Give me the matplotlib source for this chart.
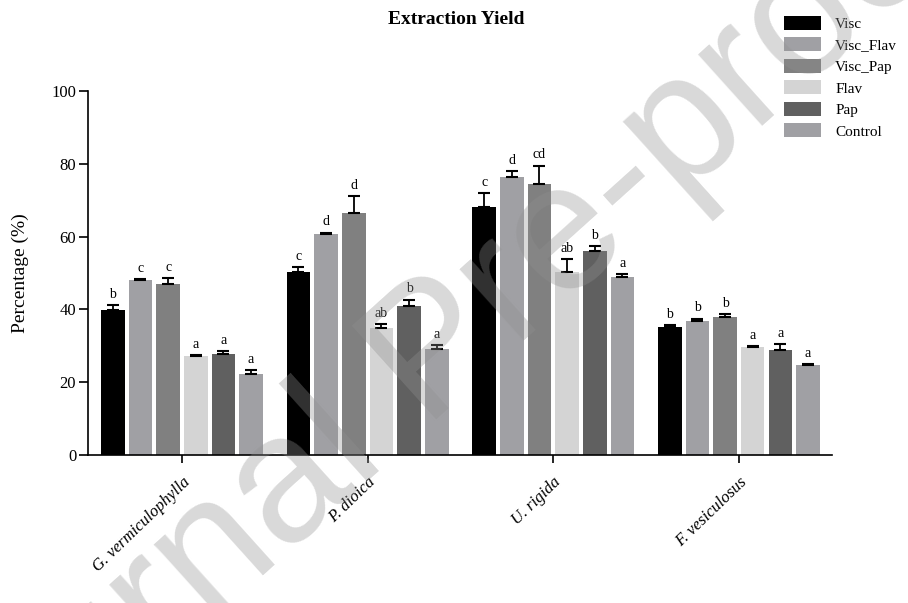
import matplotlib
matplotlib.use("Agg")
import matplotlib.pyplot as plt
import numpy as np

# ---- data ----
species = ["G. vermiculophylla", "P. dioica", "U. rigida", "F. vesiculosus"]
treatments = ["Visc", "Visc_Flav", "Visc_Pap", "Flav", "Pap", "Control"]

visc      = [39.7, 50.2, 68.2, 35.3]
visc_flav = [48.0, 60.8, 76.4, 36.7]
visc_pap  = [46.9, 66.4, 74.4, 38.0]
flav      = [27.2, 35.0, 50.4, 29.7]
pap       = [27.7, 41.0, 56.0, 28.9]
control   = [22.2, 29.0, 49.0, 24.6]

visc_err      = [1.6, 1.5, 3.7, 0.3]
visc_flav_err = [0.3, 0.3, 1.7, 0.8]
visc_pap_err  = [1.6, 4.8, 5.1, 0.7]
flav_err      = [0.3, 1.0, 3.5, 0.3]
pap_err       = [0.9, 1.7, 1.5, 1.5]
control_err   = [1.2, 1.2, 0.8, 0.3]

visc_lbl      = ["b", "c", "c", "b"]
visc_flav_lbl = ["c", "d", "d", "b"]
visc_pap_lbl  = ["c", "d", "cd", "b"]
flav_lbl      = ["a", "ab", "ab", "a"]
pap_lbl       = ["a", "b", "b", "a"]
control_lbl   = ["a", "a", "a", "a"]

yticks = [0, 20, 40, 60, 80, 100]

series = [visc, visc_flav, visc_pap, flav, pap, control]
errors = [visc_err, visc_flav_err, visc_pap_err, flav_err, pap_err, control_err]
letters = [visc_lbl, visc_flav_lbl, visc_pap_lbl, flav_lbl, pap_lbl, control_lbl]
colors = ["#000000", "#a0a0a4", "#808080", "#d4d4d4", "#606060", "#a0a0a4"]

plt.rcParams["font.family"] = ["Liberation Serif", "DejaVu Serif"]

fig = plt.figure(figsize=(9.08, 6.03), dpi=100)
ax = fig.add_axes([88/908, 1-455/603, (831.7-88)/908, (455-91)/603])

slot = 0.149
width = 0.127
x = np.arange(len(species))
handles = []
for i, (vals, errs, lbls, col, name) in enumerate(zip(series, errors, letters, colors, treatments)):
    pos = x + (i - 2.5) * slot
    b = ax.bar(pos, vals, width, color=col, label=name, zorder=2)
    handles.append(b)
    ax.errorbar(pos, vals, yerr=[np.zeros(len(vals)), errs], fmt="none",
                ecolor="black", elinewidth=1.3, capsize=4.2, capthick=1.5, zorder=3)
    for p, v, e, l in zip(pos, vals, errs, lbls):
        ax.annotate(l, (p, v + e), xytext=(0, 3), textcoords="offset points",
                    ha="center", va="bottom", fontsize=10)

ax.set_xlim(-0.506, 3.50)
ax.set_ylim(0, 100)
ax.set_yticks(yticks)
ax.set_yticklabels([str(t) for t in yticks], fontsize=12)
ax.set_xticks(x)
ax.set_xticklabels(species, rotation=44, ha="right", va="top",
                   rotation_mode="anchor", fontsize=12, style="italic")
ax.spines["top"].set_visible(False)
ax.spines["right"].set_visible(False)
ax.spines["left"].set_linewidth(1.2)
ax.spines["bottom"].set_linewidth(1.2)
ax.tick_params(axis="y", direction="out", length=6.5, width=1.2, pad=2)
ax.tick_params(axis="x", direction="out", length=6, width=1.2, pad=8)
ax.set_ylabel("Percentage (%)", fontsize=14)
ax.yaxis.set_label_coords(-0.079, 0.5)

fig.text(456/908, 1-20/603, "Extraction Yield", ha="center", va="center",
         fontsize=14, fontweight="bold")

fig.legend(handles=handles, labels=treatments, loc="upper left",
           bbox_to_anchor=(784/908, 1-16/603), frameon=False, fontsize=11,
           handlelength=2.4, handleheight=1.0, handletextpad=0.95,
           labelspacing=0.42, borderpad=0, borderaxespad=0)

fig.text(0.480, 0.408, "Journal Pre-proof", rotation=42, fontsize=130,
         family="Liberation Sans", color="#919191", alpha=0.35,
         ha="center", va="center", zorder=10)

fig.savefig("out.png", dpi=100)
